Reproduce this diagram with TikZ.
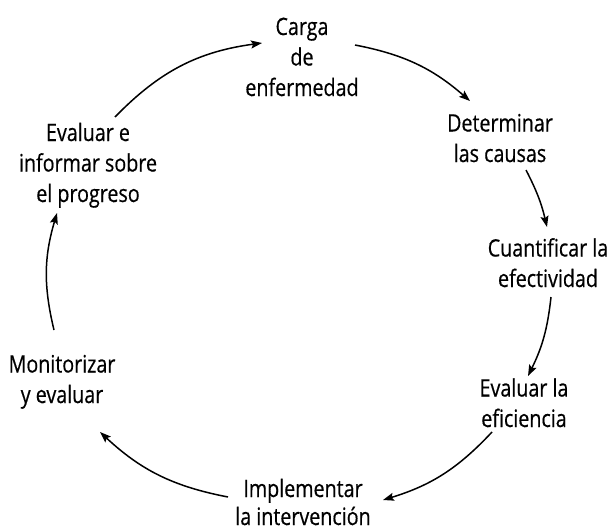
\documentclass[tikz,border=0pt]{standalone}
\usepackage{fontspec}
\setmainfont{Open Sans}[FakeStretch=0.82,FakeBold=0.5]
\usetikzlibrary{arrows.meta}
\tikzset{
  lbl/.style={align=center, inner sep=0pt, anchor=base, font=\fontsize{24}{30.5}\selectfont},
  arr/.style={line width=1.5pt, -{Stealth[length=11pt,width=8pt,inset=2pt]}}
}
\begin{document}
\begin{tikzpicture}[x=1pt,y=-1pt]
\useasboundingbox[fill=white] (0,0) rectangle (615,532);
% labels (anchor = base of last line)
\node[lbl] (carga) at (302,96) {Carga\\de\\enfermedad};
\node[lbl] (causas) at (500,162) {Determinar\\las causas};
\node[lbl] (cuant) at (548,287) {Cuantificar la\\efectividad};
\node[lbl] (efic) at (524,427) {Evaluar la\\eficiencia};
\node[lbl, font=\fontsize{24}{28}\selectfont] (impl) at (303,525) {Implementar\\la intervención};
\node[lbl] (monit) at (62,403) {Monitorizar\\y evaluar};
\node[lbl] (evalinf) at (88,202) {Evaluar e\\informar sobre\\el progreso};
% connector end points
\coordinate (a1) at (115,117); \coordinate (b1) at (262,43);
\coordinate (a2) at (355,45);  \coordinate (b2) at (470,101);
\coordinate (a3) at (526,170); \coordinate (b3) at (547,227);
\coordinate (a4) at (551,297); \coordinate (b4) at (528,376);
\coordinate (a5) at (492,432); \coordinate (b5) at (383,500);
\coordinate (a6) at (228,497); \coordinate (b6) at (100,432);
\coordinate (a7) at (54,330);  \coordinate (b7) at (57,213);
\draw[arr] (a1) to[bend left=19] (b1);
\draw[arr] (a2) to[bend left=15] (b2);
\draw[arr] (a3) to[bend left=7] (b3);
\draw[arr] (a4) to[bend left=10] (b4);
\draw[arr] (a5) to[bend left=15] (b5);
\draw[arr] (a6) to[bend left=16] (b6);
\draw[arr] (a7) to[bend left=15] (b7);
\end{tikzpicture}
\end{document}
